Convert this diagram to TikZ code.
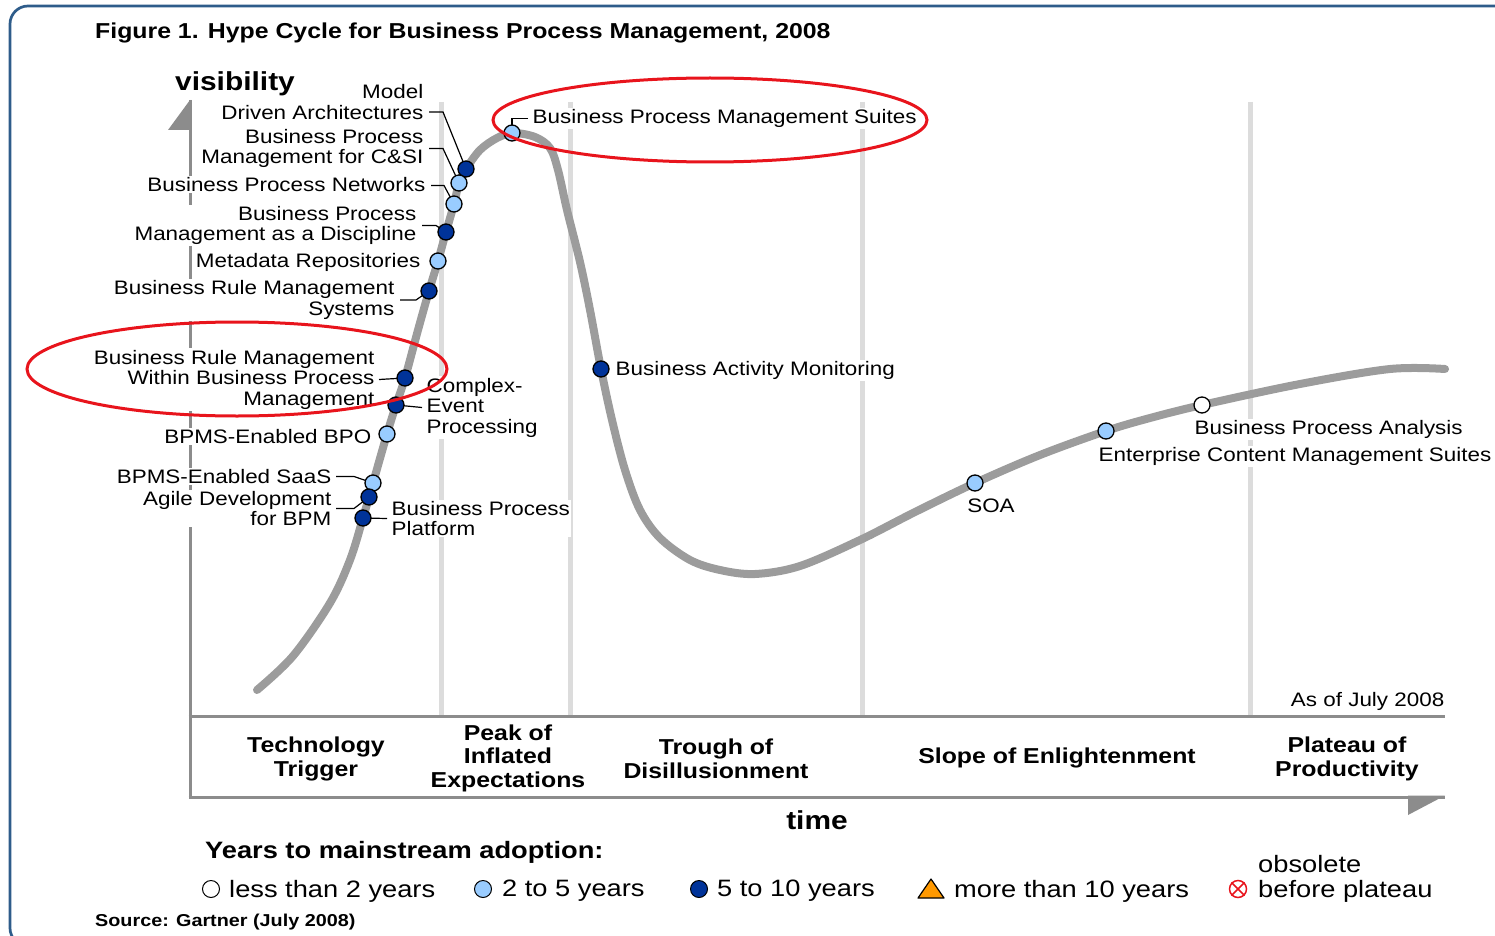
\documentclass[tikz,border=0pt]{standalone}
\usepackage{fontspec}
\setmainfont{Liberation Sans}[FakeStretch=1.15]
\usepackage{tikz}
\usetikzlibrary{positioning}

\definecolor{framebl}{HTML}{2E5C8A}
\definecolor{axisgr}{HTML}{8C8C8C}
\definecolor{curvegr}{HTML}{9C9C9C}
\definecolor{phasegr}{HTML}{DCDCDC}
\definecolor{darkdot}{HTML}{003399}
\definecolor{lightdot}{HTML}{99CCFF}
\definecolor{ringred}{HTML}{E8141C}
\definecolor{warnor}{HTML}{FF9900}

\begin{document}
\begin{tikzpicture}[x=1pt,y=-1pt,
  lbl/.style={font=\fontsize{19.5}{20.5}\selectfont, fill=white, inner sep=1.5pt, yshift=-1.5pt},
  phasetxt/.style={font=\bfseries\fontsize{21.6}{23.5}\selectfont, align=center},
  legtxt/.style={font=\fontsize{23.7}{25}\selectfont, anchor=west, inner sep=0pt},
  dot/.style={circle, draw=black, line width=1.3pt, minimum size=16pt, inner sep=0pt},
  dk/.style={dot, fill=darkdot},
  lt/.style={dot, fill=lightdot},
  wt/.style={dot, fill=white},
  lead/.style={black, line width=1.2pt},
  phaseline/.style={phasegr, line width=5pt},
  axisline/.style={axisgr, line width=3pt},
  hype/.style={curvegr, line width=8pt, line cap=round, line join=round},
  redring/.style={ringred, line width=3pt}]
\useasboundingbox (0,0) rectangle (1495,936);
\draw[framebl, line width=2.7pt, rounded corners=18pt] (10,6) rectangle (1530,946);
\node[font=\bfseries\fontsize{21.6}{23}\selectfont, anchor=west, inner sep=0pt] (title) at (95,33) {Figure 1. Hype Cycle for Business Process Management, 2008};

\draw[phaseline] (441,102) -- (441,716);
\draw[phaseline] (570,102) -- (570,716);
\draw[phaseline] (862,102) -- (862,716);
\draw[phaseline] (1250,102) -- (1250,716);

\draw[axisline] (190,100) -- (190,797);
\fill[axisgr] (190,100) -- (168,130) -- (191.5,130) -- cycle;
\draw[axisline] (188.5,716) -- (1445,716);
\draw[axisline] (188.5,797) -- (1445,797);
\fill[axisgr] (1445,795.5) -- (1408,795.5) -- (1408,815) -- cycle;

\draw[hype] plot[smooth, tension=0.55] coordinates {(257,690) (293,656) (330,603) (350,560) (363,518) (373,483) (387,434) (396,405) (405,378) (418,330) (429,291) (438,261) (446,232) (454,204) (459,183) (466,169) (480,150) (497,138) (513,133) (535,137) (550,148) (558,170) (567,210) (580,262) (590,310) (601,369) (612,420) (625,470) (640,510) (660,538) (690,560) (720,570) (755,574) (800,566) (860,540) (915,512) (975,483) (1040,455) (1106,431) (1150,418) (1202,405) (1300,384) (1390,369) (1445,369)};

\coordinate (mdapt) at (466,169);
\coordinate (bpmcsipt) at (459,183);
\coordinate (bpnpt) at (454,204);
\coordinate (bpmdpt) at (446,232);
\coordinate (mdrpt) at (438,261);
\coordinate (brmspt) at (429,291);
\coordinate (brmbpmpt) at (405,378);
\coordinate (ceppt) at (396,405);
\coordinate (bpopt) at (387,434);
\coordinate (saaspt) at (373,483);
\coordinate (agilept) at (369,497);
\coordinate (bpppt) at (363,518);
\coordinate (bpmspt) at (512,133);
\coordinate (bampt) at (601,369);
\coordinate (soapt) at (975,483);
\coordinate (ecmpt) at (1106,431);
\coordinate (bpapt) at (1202,405);

\node[lbl, align=right, anchor=east] (mda) at (425,100.5) {Model\\Driven Architectures};
\node[lbl, align=right, anchor=east] (bpmcsi) at (425,147) {Business Process\\Management for C\&SI};
\node[lbl, anchor=east] (bpn) at (427,183) {Business Process Networks};
\node[lbl, align=right, anchor=east] (bpmd) at (418,224) {Business Process\\Management as a Discipline};
\node[lbl, anchor=east] (mdr) at (422,261) {Metadata Repositories};
\node[lbl, align=right, anchor=east] (brms) at (396,298.5) {Business Rule Management\\Systems};
\node[lbl, align=right, anchor=east] (brmbpm) at (376,378) {Business Rule Management\\Within Business Process\\Management};
\node[lbl, align=left, anchor=west] (cep) at (425,406) {Complex-\\Event\\Processing};
\node[lbl, anchor=east] (bpo) at (373,435) {BPMS-Enabled BPO};
\node[lbl, anchor=east] (saas) at (333,475) {BPMS-Enabled SaaS};
\node[lbl, align=right, anchor=east] (agile) at (333,507) {Agile Development\\for BPM};
\node[lbl, align=left, anchor=west] (bpp) at (390,517) {Business Process\\Platform};
\node[lbl, anchor=west] (bpms) at (531,117) {Business Process Management Suites};
\node[lbl, anchor=west] (bam) at (614,369) {Business Activity Monitoring};
\node[lbl, anchor=north] (soa) at (991,496) {SOA};
\node[lbl, anchor=west] (ecm) at (1097,455) {Enterprise Content Management Suites};
\node[lbl, anchor=west] (bpa) at (1193,428) {Business Process Analysis};
\node[lbl, anchor=east] (asof) at (1446,700) {As of July 2008};

\node[font=\bfseries\fontsize{26}{28}\selectfont] (vis) at (235,84) {visibility};
\node[font=\bfseries\fontsize{26}{28}\selectfont] (time) at (817,820) {time};

\draw[lead] ([shift={(4pt,-10pt)}]mda.east) -- ++(14,0) -- (mdapt);
\draw[lead] ([xshift=4pt]bpmcsi.east) -- ++(14,0) -- (bpmcsipt);
\draw[lead] ([shift={(4pt,-1pt)}]bpn.east) -- ++(13,0) -- (bpnpt);
\draw[lead] ([xshift=4pt]bpmd.east) -- ++(14,0) -- (bpmdpt);
\draw[lead] ([xshift=4pt]brms.east) -- ++(16,0) -- (brmspt);
\draw[lead] ([xshift=3pt]brmbpm.east) -- (brmbpmpt);
\draw[lead] (ceppt) -- ([xshift=-3pt]cep.west);
\draw[lead] ([xshift=3pt]saas.east) -- ++(18,0) -- (saaspt);
\draw[lead] ([xshift=3pt]agile.east) -- ++(18,0) -- (agilept);
\draw[lead] (bpppt) -- ([xshift=-3pt]bpp.west);
\draw[lead] ([xshift=-3pt]bpms.west) -| (bpmspt);

\node[dk] (mdadot) at (mdapt) {};
\node[lt] (bpmcsidot) at (bpmcsipt) {};
\node[lt] (bpndot) at (bpnpt) {};
\node[dk] (bpmddot) at (bpmdpt) {};
\node[lt] (mdrdot) at (mdrpt) {};
\node[dk] (brmsdot) at (brmspt) {};
\node[dk] (brmbpmdot) at (brmbpmpt) {};
\node[dk] (cepdot) at (ceppt) {};
\node[lt] (bpodot) at (bpopt) {};
\node[lt] (saasdot) at (saaspt) {};
\node[dk] (agiledot) at (agilept) {};
\node[dk] (bppdot) at (bpppt) {};
\node[lt] (bpmsdot) at (bpmspt) {};
\node[dk] (bamdot) at (bampt) {};
\node[lt] (soadot) at (soapt) {};
\node[lt] (ecmdot) at (ecmpt) {};
\node[wt] (bpadot) at (bpapt) {};

\node[phasetxt] (trigger) at (316,759) {Technology\\Trigger};
\node[phasetxt] (peak) at (508,758) {Peak of\\Inflated\\Expectations};
\node[phasetxt] (trough) at (716,759) {Trough of\\Disillusionment};
\node[phasetxt] (slope) at (1057,758) {Slope of Enlightenment};
\node[phasetxt] (plateau) at (1347,759) {Plateau of\\Productivity};

\node[font=\bfseries\fontsize{23.7}{25}\selectfont, anchor=west, inner sep=0pt] (legtitle) at (205,852) {Years to mainstream adoption:};
\node[wt, line width=1pt, minimum size=17pt] (lgwt) at (211,889) {};
\node[legtxt] (lgwttxt) at (229,891) {less than 2 years};
\node[lt, line width=1pt, minimum size=17pt] (lglt) at (483,889) {};
\node[legtxt] (lglttxt) at (502,891) {2 to 5 years};
\node[dk, line width=1pt, minimum size=17pt] (lgdk) at (699,889) {};
\node[legtxt] (lgdktxt) at (717,891) {5 to 10 years};
\filldraw[fill=warnor, draw=black, line width=1.2pt, line join=round] (918,898) -- (944,898) -- (931,879) -- cycle;
\node[legtxt] (lgortxt) at (954,891) {more than 10 years};
\node[circle, draw=ringred, line width=1.5pt, minimum size=17pt, inner sep=0pt] (lgobs) at (1238,889) {};
\draw[ringred, line width=1.5pt] (lgobs.45) -- (lgobs.225) (lgobs.135) -- (lgobs.315);
\node[legtxt, align=left] (lgobstxt) at (1258,878.5) {obsolete\\before plateau};
\node[font=\bfseries\fontsize{17.2}{18}\selectfont, anchor=west, inner sep=0pt] (src) at (95,922) {Source: Gartner (July 2008)};

\draw[redring] (710,120) ellipse [x radius=217, y radius=42];
\draw[redring] (237,369) ellipse [x radius=210, y radius=47];
\end{tikzpicture}
\end{document}
